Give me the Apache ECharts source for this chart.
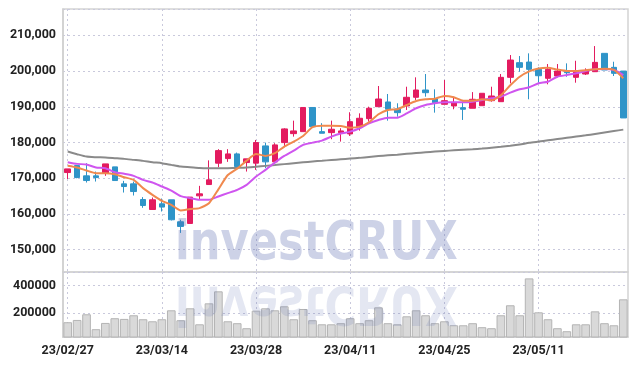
<!DOCTYPE html>
<html><head><meta charset="utf-8">
<script src="https://cdn.jsdelivr.net/npm/echarts@6/dist/echarts.min.js"></script>
<style>html,body{margin:0;padding:0;background:#fff}#c{width:636px;height:366px}</style>
</head><body><div id="c"></div>
<script>
var dates = ['23/02/27','23/02/28','23/03/02','23/03/03','23/03/06','23/03/07','23/03/08','23/03/09','23/03/10','23/03/13',
'23/03/14','23/03/15','23/03/16','23/03/17','23/03/20','23/03/21','23/03/22','23/03/23','23/03/24','23/03/27',
'23/03/28','23/03/29','23/03/30','23/03/31','23/04/03','23/04/04','23/04/05','23/04/06','23/04/07','23/04/10',
'23/04/11','23/04/12','23/04/13','23/04/14','23/04/17','23/04/18','23/04/19','23/04/20','23/04/21','23/04/24',
'23/04/25','23/04/26','23/04/27','23/04/28','23/05/02','23/05/03','23/05/04','23/05/08','23/05/09','23/05/10',
'23/05/11','23/05/12','23/05/15','23/05/16','23/05/17','23/05/18','23/05/19','23/05/22','23/05/23','23/05/24'];
var opens = [171590,173540,170670,170670,171420,173180,168430,168430,164050,161260,
162850,163970,157820,157350,165080,168240,174220,175500,176810,174390,
174220,179050,174580,179970,182480,183040,189800,183040,182760,182760,
182400,184440,186670,190020,191340,189380,190220,192650,194690,192170,
190690,190220,189750,189580,190300,191700,191420,198230,202330,202510,
200470,197960,198600,199810,198230,199160,199810,204940,201030,199990];
var closes = [172620,170190,169360,170190,174020,169360,167680,166280,162370,163970,
161930,158380,156510,164720,165640,169550,177730,176810,173270,175420,
179970,174580,179330,183800,183240,189800,184440,182590,183710,183240,
185830,186780,189580,192170,189300,188350,192650,194690,193940,191140,
191700,191140,189300,192090,193770,193010,198230,203070,201030,200470,
198680,200470,199990,199530,199810,199990,202420,200280,199350,186870];
var lows = [169800,170000,168800,169080,170670,169360,166000,165170,161730,161260,
160700,158200,154700,157350,163970,168240,173100,174580,173270,171870,
172340,172820,174000,178680,181640,183040,184440,182590,180920,180250,
181840,183320,185830,190020,186110,187230,189100,191900,192820,188350,
190690,189300,186310,189580,190300,191420,191420,196560,199810,192090,
196730,196280,198230,198400,196730,198880,199810,200280,198600,186870];
var highs = [172620,173600,174210,171870,174020,173180,169270,169070,164720,164610,
164330,163970,158400,164720,167870,175000,178130,178130,177180,175420,
180720,179970,179800,183990,186110,189800,189800,185400,186110,183990,
188460,188160,190020,195800,193570,190970,195610,198230,199160,194880,
197480,192820,191420,194100,193770,195610,199160,204470,204190,204940,
201030,201950,201950,202140,202870,200750,206980,204940,202600,199990];
var volumes = [135000,151600,192800,84500,130000,164000,159000,185600,156700,142000,
156700,221600,149500,236000,120000,272000,359000,142000,128000,91700,
219000,236000,221600,250500,156700,231000,149500,120000,120000,128000,
164000,128000,149500,243000,128000,120000,178000,221600,185600,128000,
142000,113000,113000,128000,99000,91700,185600,258000,185600,452700,
207000,156700,91700,70000,120000,120000,214000,128000,113000,301000];
var ma5 = [173500,172990,172150,171420,171420,171140,170300,169550,167230,165360,
163690,162570,160980,161370,161650,163000,166900,170900,172700,174940,
176810,176250,177010,178850,180250,181840,184270,184720,184720,184630,
184160,184440,185670,187900,189100,189300,190500,191620,192090,192260,
193010,192650,191700,191700,192090,191800,193200,196000,198400,199900,
200700,200900,200400,200000,200000,200200,200500,200600,200300,198000];
var ma20 = [174490,174020,173830,172990,172820,171700,171230,170670,169550,168800,
167680,166560,165000,164440,163970,163970,164900,165830,166760,168150,
170470,172340,174380,176250,177730,179330,179970,180530,181640,182500,
183040,183990,185390,186310,186950,186950,188160,189580,190500,190970,
191250,191250,191250,191420,191900,192370,192820,193940,194880,195440,
196560,197010,198400,198880,199350,199990,200470,200560,200280,198880];
var ma60 = [177460,176730,176060,175890,175800,175610,175420,175140,174860,174490,
174220,173740,173270,173100,172900,172820,172800,172820,172900,173000,
173200,173460,173700,173950,174200,174450,174700,174900,175100,175300,
175500,175700,175950,176200,176400,176600,176850,177050,177250,177450,
177650,177800,177950,178100,178300,178550,178800,179100,179450,179900,
180250,180600,180950,181300,181650,182000,182400,182800,183200,183600];
var priceTicks = [150000,160000,170000,180000,190000,200000,210000];
var volTicks = [200000,400000];

var FONT = "Roboto, 'Liberation Sans', sans-serif";
var WM = "bold 54px 'DejaVu Sans', sans-serif";
var ohlc = dates.map(function(d,i){return [opens[i],closes[i],lows[i],highs[i]];});
var chart = echarts.init(document.getElementById('c'));
var split = {show:true,lineStyle:{color:'#c9c9dc',type:[2,3],width:1}};
var vsplit = {show:true,interval:9,alignWithLabel:true,lineStyle:{color:'#c9c9dc',type:[2,3],width:1}};
var lab = {color:'#222',fontSize:12.5,fontWeight:'bold',fontFamily:FONT,margin:7};
chart.setOption({
  animation:false,
  grid:[
    {left:63,right:8,top:9,height:263,show:true,borderColor:'#d4d4d4',borderWidth:1.5},
    {left:63,right:8,top:272,height:65,show:true,borderColor:'#d4d4d4',borderWidth:1.5}
  ],
  xAxis:[
    {type:'category',gridIndex:0,data:dates,boundaryGap:true,axisLabel:{show:false,interval:9},axisTick:{show:false},
     axisLine:{show:false},splitLine:vsplit},
    {type:'category',gridIndex:1,data:dates,boundaryGap:true,axisTick:{show:false},
     axisLine:{show:true,lineStyle:{color:'#cfcfcf',width:1.5}},
     axisLabel:Object.assign({interval:9},lab),splitLine:vsplit}
  ],
  yAxis:[
    {type:'value',gridIndex:0,min:143770,max:217350,splitNumber:7,
     axisLine:{show:true,lineStyle:{color:'#cfcfcf',width:1.5}},axisTick:{show:false},splitLine:split,
     axisLabel:Object.assign({showMinLabel:false,showMaxLabel:false,
       formatter:function(v){return priceTicks.indexOf(v)>=0?v.toLocaleString('en-US'):'';}},lab)},
    {type:'value',gridIndex:1,min:28000,max:499000,splitNumber:2,
     axisLine:{show:true,lineStyle:{color:'#cfcfcf',width:1.5}},axisTick:{show:false},splitLine:split,
     axisLabel:Object.assign({showMinLabel:false,showMaxLabel:false,
       formatter:function(v){return volTicks.indexOf(v)>=0?String(v):'';}},lab)}
  ],
  series:[
    {type:'candlestick',xAxisIndex:0,yAxisIndex:0,data:ohlc,barWidth:6,
     itemStyle:{color:'#e31b5f',color0:'#2f94c8',borderColor:'#e31b5f',borderColor0:'#2f94c8',borderWidth:1}},
    {type:'line',xAxisIndex:0,yAxisIndex:0,data:ma60,symbol:'none',smooth:0.2,lineStyle:{color:'#8a8a8a',width:2}},
    {type:'line',xAxisIndex:0,yAxisIndex:0,data:ma20,symbol:'none',smooth:0.2,lineStyle:{color:'#cf55ef',width:2}},
    {type:'line',xAxisIndex:0,yAxisIndex:0,data:ma5,symbol:'none',smooth:0.2,lineStyle:{color:'#f0894e',width:2}},
    {type:'bar',xAxisIndex:1,yAxisIndex:1,data:volumes,barCategoryGap:'8%',
     itemStyle:{color:'#d9d9d9',borderColor:'#b4b4b4',borderWidth:1}}
  ],
  graphic:[
    {type:'text',z:100,x:175,y:272,scaleX:0.8,
     style:{text:'investCRUX',font:WM,fill:'#5a6aae',opacity:0.3,
            textVerticalAlign:'bottom',verticalAlign:'bottom'}},
    {type:'text',z:100,x:175,y:274,scaleX:0.8,scaleY:-1,
     style:{text:'investCRUX',font:WM,fill:'#5a6aae',opacity:0.16,
            textVerticalAlign:'bottom',verticalAlign:'bottom'}}
  ]
});
</script></body></html>
